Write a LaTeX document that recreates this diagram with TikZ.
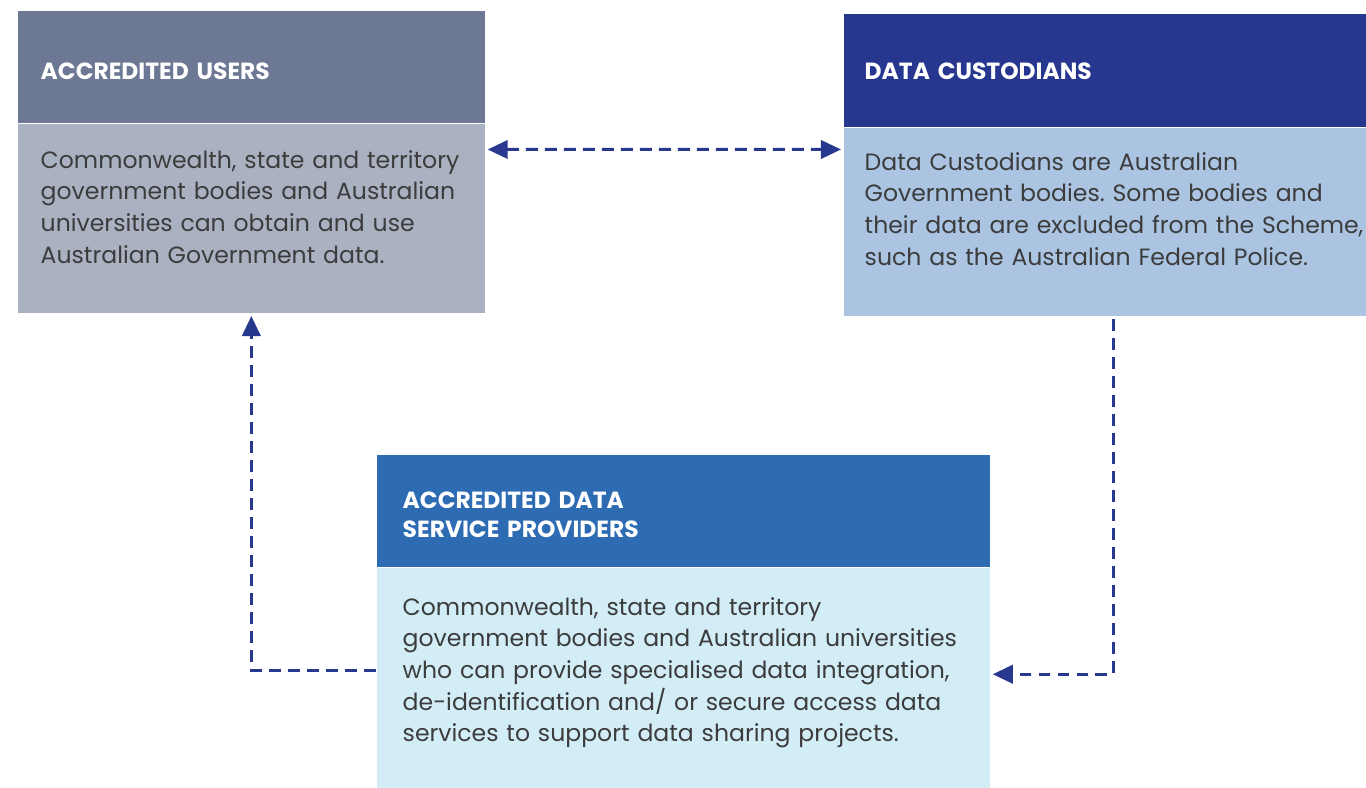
\documentclass[tikz,border=0pt]{standalone}
\usepackage{fontspec}
\setmainfont{Poppins}
\usepackage{tikz}
\usetikzlibrary{positioning,arrows.meta}

\definecolor{userhead}{HTML}{6D7894}
\definecolor{userbody}{HTML}{AAB2C1}
\definecolor{custhead}{HTML}{27378F}
\definecolor{custbody}{HTML}{AAC4E2}
\definecolor{provhead}{HTML}{2D6BB3}
\definecolor{provbody}{HTML}{D2EDF6}
\definecolor{bodytext}{HTML}{3C3C3C}
\definecolor{linkblue}{HTML}{28388F}
\hyphenpenalty=10000
\frenchspacing

\begin{document}
\begin{tikzpicture}[x=0.01cm,y=-0.01cm,
	head/.style={inner ysep=0pt,inner xsep=0.23cm,align=left,anchor=north west,text=white,font=\fontsize{6.65}{8.2}\selectfont\bfseries},
	body/.style={inner ysep=0pt,inner xsep=0.23cm,align=left,text=bodytext,font=\fontsize{6.7}{9.0}\selectfont},
	link/.style={draw=linkblue,line width=0.85pt,dash pattern=on 3.4pt off 2pt},
	>={Triangle[length=5.7pt,width=5.2pt]}]
		\useasboundingbox (0,0) rectangle (1366,787);
		
		\node[head,fill=userhead,text width=4.21cm,text height=0.69cm,text depth=0.43cm] (uhead) at (17,10) {ACCREDITED USERS};
		\node[body,below=0pt of uhead,fill=userbody,text width=4.21cm,text height=0.44cm,text depth=1.45cm] (ubody) {Commonwealth, state and territory\\government bodies and Australian\\universities can obtain and use\\Australian Government data.};
		
		\node[head,fill=custhead,text width=5.4cm,inner xsep=0.21cm,text height=0.655cm,text depth=0.475cm] (chead) at (843,13) {DATA CUSTODIANS};
		\node[body,below=0pt of chead,fill=custbody,text width=5.4cm,inner xsep=0.21cm,text height=0.42cm,text depth=1.46cm] (cbody) {Data Custodians are Australian\\Government bodies. Some bodies and\\their data are excluded from the Scheme,\\such as the Australian Federal Police.};
		
		\node[head,fill=provhead,text width=5.61cm,inner xsep=0.26cm,text height=0.54cm,text depth=0.58cm] (phead) at (376,454) {ACCREDITED DATA\\SERVICE PROVIDERS};
		\node[body,below=0pt of phead,fill=provbody,text width=5.61cm,inner xsep=0.26cm,text height=0.47cm,text depth=1.73cm] (pbody) {Commonwealth, state and territory\\government bodies and Australian~universities\\who can provide specialised data integration,\\de-identification and/ or secure access data\\services to support data sharing projects.};
		
		\draw[link,<->] ([shift={(2,26)}]ubody.north east)--([shift={(-2,22)}]cbody.north west);
		\draw[link,->] ([shift={(0,-8)}]pbody.west) -| ([shift={(0,2)}]ubody.south);
		\draw[link,->] ([shift={(270,2)}]cbody.south west) |- ([shift={(2,-4)}]pbody.east);
	\end{tikzpicture}
\end{document}
